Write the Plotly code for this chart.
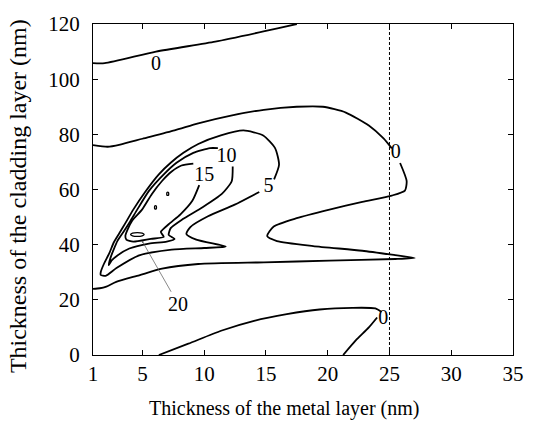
import plotly.graph_objects as go

FONT = "Liberation Serif"

# x ticks / y ticks
x_ticks = [1, 5, 10, 15, 20, 25, 30, 35]
y_ticks = [0, 20, 40, 60, 80, 100, 120]

# contour 0 (top)
c0_top_x = [1, 1.95, 6.1, 10.9, 14.9, 17.3, 17.5]
c0_top_y = [105.8, 105.8, 110.0, 113.6, 117.4, 119.8, 120.0]

# contour 0 (middle, folded), None = label gap
c0_mid_x = [1, 2.19, 3.2, 5.0, 7.6, 9.52, 12.17, 14.83, 17.49, 19.61, 21.47, 23.33, 24.52, 25.19, None,
            25.86, 26.39, 26.25, 25.19, 22.80, 20.14, 17.49, 15.63, 15.10, 15.89, 18.82, 22.80, 25.46, 27.05,
            25.46, 20.14, 14.83, 9.52, 6.59, 4.74, 2.88, 2.08, 1.55, 1]
c0_mid_y = [76.1, 75.5, 76.3, 78.4, 81.4, 84.0, 86.8, 88.9, 90.0, 90.0, 87.9, 83.2, 78.5, 74.9, None,
            69.6, 63.1, 59.6, 57.8, 55.5, 52.7, 49.6, 46.6, 43.1, 41.3, 39.5, 37.8, 36.2, 35.2,
            34.8, 34.2, 33.6, 33.0, 31.3, 28.9, 26.5, 24.8, 24.2, 24.0]

# contour 0 (bottom)
c0_bot_x = [6.33, 8.72, 11.37, 14.04, 16.69, 19.34, 22.0, 23.86, 24.35, None, 24.0, 23.33, 22.27, 21.25]
c0_bot_y = [0.0, 4.1, 8.8, 12.4, 14.8, 16.5, 17.1, 16.9, 15.6, None, 13.6, 10.0, 5.3, 0.0]

# contour 5
c5_x = [14.46, 12.47, 10.31, 8.88, 8.56, 9.36, 11.75, 10.0, 7.37, 4.74, 2.90, 2.03, 1.63, 1.63, 1.87, 2.35,
        2.67, 3.14, 3.62, 4.26, 5.22, 6.33, 7.29, 8.32, 9.52, 11.35, 13.18, 14.78, 15.74, 16.06, 15.66]
c5_y = [59.1, 54.5, 50.3, 46.4, 43.9, 41.8, 39.3, 38.8, 38.2, 36.1, 31.5, 28.7, 29.0, 30.1, 32.9, 37.2,
        40.7, 44.2, 47.8, 52.7, 59.1, 65.5, 69.7, 73.3, 76.5, 79.6, 81.4, 79.6, 75.0, 69.0, 63.7]

# contour 10
c10_x = [12.31, 12.23, 11.43, 9.84, 8.24, 7.29, 7.13, 7.61, 6.97, 5.53, 3.94, 2.98, 2.51, 2.27, 2.43, 2.67,
         2.98, 3.46, 4.02, 4.58, 5.53, 6.73, 7.76, 9.12, 10.47, 11.11]
c10_y = [68.3, 63.0, 58.4, 53.5, 49.2, 46.0, 43.5, 42.1, 41.1, 40.4, 38.6, 36.1, 34.3, 32.6, 35.4, 38.2,
         41.4, 44.6, 48.5, 52.7, 59.5, 65.5, 69.7, 73.3, 75.0, 75.0]

# contour 15
c15_x = [9.60, 9.04, 8.08, 7.13, 6.49, 6.73, 5.69, 4.26, 3.70, 3.62, 3.78, 4.18, 4.97, 5.77, 6.57, 7.37,
         8.16, 9.12]
c15_y = [61.6, 55.9, 51.0, 47.4, 44.6, 42.8, 42.1, 41.1, 41.8, 43.2, 45.3, 48.8, 52.7, 58.4, 63.0, 66.5,
         68.7, 69.4]

# contour 20 (small islands)
c20_x = [4.04, 4.2, 4.59, 4.98, 5.14, 4.98, 4.59, 4.2, 4.04, None,
         6.0, 6.12, 6.12, 6.0, 6.0, None,
         6.99, 7.11, 7.11, 6.99, 6.99]
c20_y = [43.7, 44.2, 44.4, 44.2, 43.7, 43.2, 43.0, 43.2, 43.7, None,
         53.0, 53.0, 54.0, 54.0, 53.0, None,
         57.9, 57.9, 58.9, 58.9, 57.9]

# contour labels
lab_text = ["0", "0", "0", "5", "10", "15"]
lab_x = [6.1, 25.5, 24.5, 15.2, 11.8, 10.0]
lab_y = [105.0, 73.3, 13.1, 60.9, 71.9, 64.8]

# "20" label with leader
lab20_pos = (7.9, 18.4)
lab20_tip = (4.97, 41.4)

# reference line
ref_x = [25, 25]
ref_y = [0, 120]

fig = go.Figure()
line_style = dict(color="black", width=1.8)
for xs, ys in [(c0_top_x, c0_top_y), (c0_mid_x, c0_mid_y), (c0_bot_x, c0_bot_y),
               (c5_x, c5_y), (c10_x, c10_y), (c15_x, c15_y)]:
    fig.add_trace(go.Scatter(x=xs, y=ys, mode="lines", line=dict(shape="spline", smoothing=0.6, **line_style),
                             connectgaps=False, showlegend=False, hoverinfo="skip"))
fig.add_trace(go.Scatter(x=c20_x, y=c20_y, mode="lines", line=dict(color="black", width=1.3, shape="spline", smoothing=0.8),
                         connectgaps=False, showlegend=False, hoverinfo="skip"))
fig.add_trace(go.Scatter(x=ref_x, y=ref_y, mode="lines", line=dict(color="black", width=1, dash="3px,2px"),
                         showlegend=False, hoverinfo="skip"))
fig.add_trace(go.Scatter(x=lab_x, y=lab_y, mode="text", text=lab_text,
                         textfont=dict(family=FONT, size=20, color="black"),
                         showlegend=False, hoverinfo="skip"))

fig.add_annotation(x=lab20_tip[0], y=lab20_tip[1], ax=lab20_pos[0], ay=lab20_pos[1],
                   xref="x", yref="y", axref="x", ayref="y", text="20",
                   font=dict(family=FONT, size=20, color="black"),
                   showarrow=True, arrowhead=2, arrowsize=0.6, arrowwidth=0.7, arrowcolor="#555")

fig.add_annotation(text="Thickness of the metal layer (nm)", xref="paper", yref="paper",
                   x=0.455, y=0, yanchor="top", xanchor="center", yshift=-40, showarrow=False,
                   font=dict(family=FONT, size=20, color="black"))
fig.add_annotation(text="Thickness of the cladding layer (nm)", xref="paper", yref="paper",
                   x=0, y=0.48, xanchor="right", yanchor="middle", xshift=-60, textangle=-90, showarrow=False,
                   font=dict(family=FONT, size=24, color="black"))

axis_common = dict(showgrid=False, zeroline=False, showline=True, linecolor="black", linewidth=1,
                   mirror="ticks", ticks="inside", ticklen=5, tickcolor="black", tickwidth=1,
                   tickfont=dict(family=FONT, size=21, color="black"))
fig.update_xaxes(range=[1, 35], tickvals=x_ticks, ticktext=[str(v) for v in x_ticks], **axis_common)
fig.update_yaxes(range=[0, 120], tickvals=y_ticks, ticktext=[str(v) for v in y_ticks],
                 ticklabelstandoff=8, **axis_common)

fig.update_layout(width=536, height=425, margin=dict(l=93, r=17, t=16, b=70),
                  plot_bgcolor="white", paper_bgcolor="white", showlegend=False)

fig.write_html("out.html")
